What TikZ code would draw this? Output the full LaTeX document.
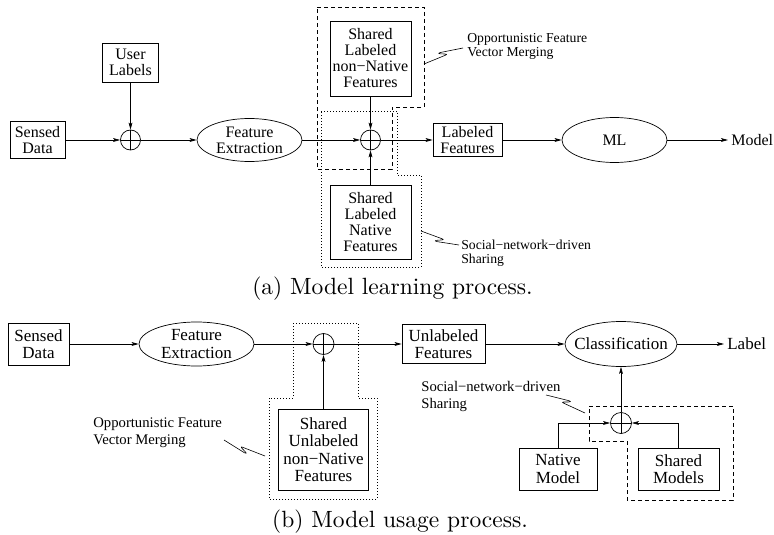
\documentclass[tikz,border=0pt]{standalone}
\usepackage{fontspec}
\newfontfamily\tms{Liberation Serif}
\newfontfamily\capfont{lmroman10-regular.otf}
\usetikzlibrary{arrows.meta,calc,shapes.geometric}

% annotation leader with a small S-shaped kink in the middle
\newcommand\squig[3]{%
  \draw[thin line] (#1) -- ($(#1)!0.5!(#2)!2pt!(#2)$)
    .. controls ($(#1)!0.5!(#2)!8pt!(#2)$) and ($(#1)!0.5!(#2)!-8pt!(#2)!4.5pt!#3:(#2)$)
    .. ($(#1)!0.5!(#2)!-2pt!(#2)!4.5pt!#3:(#2)$) -- (#2);}

\begin{document}
\begin{tikzpicture}[x=1pt,y=-1pt,
  line width=0.7pt,
  thin line/.style={line width=0.6pt},
  >={Stealth[length=7pt,width=3.8pt,inset=1.5pt]},
  box/.style={draw, rectangle, inner sep=0pt, align=center},
  oval/.style={draw, ellipse, inner sep=0pt},
  sum/.style={draw, circle, minimum size=20pt, inner sep=0pt,
    path picture={\draw (path picture bounding box.north) -- (path picture bounding box.south)
                        (path picture bounding box.west) -- (path picture bounding box.east);}},
  dashregion/.style={line width=0.7pt, dash pattern=on 4pt off 3pt},
  dotregion/.style={line width=0.7pt, dash pattern=on 0.7pt off 2.3pt},
  endtext/.style={anchor=west, inner ysep=0pt, inner xsep=3pt},
  caption/.style={font=\capfont\fontsize{23.5}{28}\selectfont, inner sep=0pt}]
\useasboundingbox (0,0) rectangle (774,535);

% ---------------- (a) model learning ----------------
\begin{scope}[every node/.append style={font=\tms\fontsize{16}{16}\selectfont},
  note/.style={font=\tms\fontsize{13.7}{14}\selectfont, align=left, inner sep=0pt, anchor=west}]
  \node[box, minimum width=55, minimum height=37] (sd1) at (37.5,140) {Sensed\\Data};
  \node[box, minimum width=56, minimum height=39] (ul) at (130.5,62.5) {User\\Labels};
  \node[sum] (p1) at (130.5,140) {};
  \node[oval, minimum width=105, minimum height=43,
        label={[align=center]center:Feature\\Extraction}] (fe1) at (249.5,140) {};
  \node[sum] (p2) at (370.5,140) {};
  \node[box, minimum width=81, minimum height=75] (snn) at (370.5,58.5) {Shared\\Labeled\\non−Native\\Features};
  \node[box, minimum width=81, minimum height=74] (sln) at (370.5,222) {Shared\\Labeled\\Native\\Features};
  \node[box, minimum width=69, minimum height=33] (lf) at (467.5,140) {Labeled\\Features};
  \node[oval, minimum width=105, minimum height=45, label={center:ML}] (ml) at (614.5,140) {};
  \node[endtext] (mo) at (728,140) {Model};

  \draw[dashregion] (317,7) -- (424,7) -- (424,107) -- (392,107) -- (392,169) -- (317,169) -- cycle;
  \draw[dotregion] (321,111) -- (397,111) -- (397,175) -- (421,175) -- (421,267) -- (321,267) -- cycle;

  \node[note] (n1) at (467,46) {Opportunistic Feature\\Vector Merging};
  \node[note] (n2) at (461,253) {Social−network−driven\\Sharing};
  \coordinate (n1a) at (424,64);  \coordinate (n1b) at (463,48);
  \coordinate (n2a) at (421,231); \coordinate (n2b) at (459,245);
  \squig{n1a}{n1b}{90}
  \squig{n2a}{n2b}{-90}

  \draw[->] (sd1) -- (p1);
  \draw[->] (ul) -- (p1);
  \draw[->] (p1) -- (fe1);
  \draw[->] (fe1) -- (p2);
  \draw[->] (snn) -- (p2);
  \draw[->] (sln) -- (p2);
  \draw[->] (p2) -- (lf);
  \draw[->] (lf) -- (ml);
  \draw[->] (ml) -- (mo);
\end{scope}

\node[caption] (capa) at (392.5,289) {(a) Model learning process.};

% ---------------- (b) model usage ----------------
\begin{scope}[every node/.append style={font=\tms\fontsize{17}{17.5}\selectfont},
  note/.style={font=\tms\fontsize{14.7}{17.5}\selectfont, align=left, inner sep=0pt, anchor=west}]
  \node[box, minimum width=61, minimum height=42] (sd2) at (38.5,344) {Sensed\\Data};
  \node[oval, minimum width=115, minimum height=44,
        label={[align=center]center:Feature\\Extraction}] (fe2) at (196.5,344) {};
  \node[sum, minimum size=21pt] (p3) at (323.5,344) {};
  \node[box, minimum width=90, minimum height=81] (sun) at (323.5,449.5) {Shared\\Unlabeled\\non−Native\\Features};
  \node[box, minimum width=83, minimum height=39] (uf) at (443.5,344) {Unlabeled\\Features};
  \node[oval, minimum width=112, minimum height=45, label={center:Classification}] (cl) at (621,344) {};
  \node[endtext] (lb) at (724,344) {Label};
  \node[sum, minimum size=21pt] (p4) at (621,423) {};
  \node[box, minimum width=78, minimum height=42] (nm) at (558,469) {Native\\Model};
  \node[box, minimum width=81, minimum height=42] (sm) at (678.5,469) {Shared\\Models};

  \draw[dotregion] (293,323) -- (358,323) -- (358,398) -- (377,398) -- (377,499)
                   -- (269,499) -- (269,398) -- (293,398) -- cycle;
  \draw[dashregion] (589,406) -- (733,406) -- (733,500) -- (627,500) -- (627,441) -- (589,441) -- cycle;

  \node[note] (n3) at (93,432.5) {Opportunistic Feature\\Vector Merging};
  \node[note] (n4) at (421,396.5) {Social−network−driven\\Sharing};
  \coordinate (n3a) at (265,456); \coordinate (n3b) at (224,440);
  \coordinate (n4a) at (585,413); \coordinate (n4b) at (546,395);
  \squig{n3a}{n3b}{90}
  \squig{n4a}{n4b}{-90}

  \draw[->] (sd2) -- (fe2);
  \draw[->] (fe2) -- (p3);
  \draw[->] (sun) -- (p3);
  \draw[->] (p3) -- (uf);
  \draw[->] (uf) -- (cl);
  \draw[->] (cl) -- (lb);
  \draw[->] (p4) -- (cl);
  \draw[->] (nm.north) |- (p4);
  \draw[->] (sm.north) |- (p4);
\end{scope}

\node[caption] (capb) at (400,522) {(b) Model usage process.};
\end{tikzpicture}
\end{document}
